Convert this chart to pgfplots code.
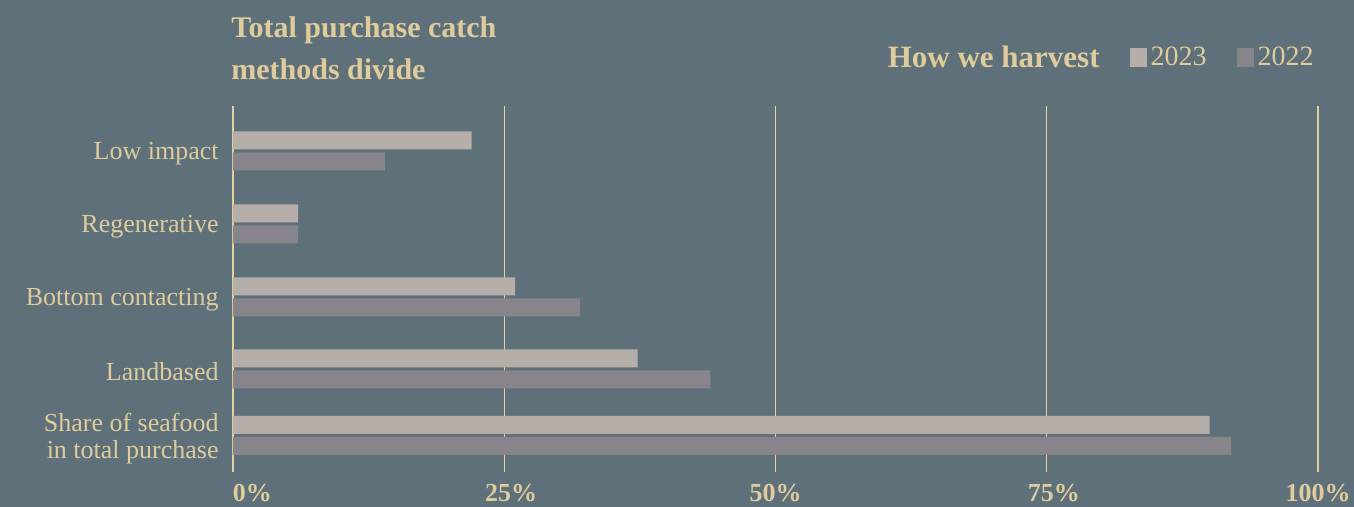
\documentclass[border=0pt]{standalone}
\usepackage{fontspec}
\setmainfont{Liberation Serif}
\usepackage{pgfplots}
\pgfplotsset{compat=1.18}
\definecolor{bg}{HTML}{5E717A}
\definecolor{cream}{HTML}{DFCB9B}
\definecolor{gridc}{HTML}{E3D1A0}
\definecolor{cA}{HTML}{B6AEA9}
\definecolor{cB}{HTML}{87848C}
\begin{document}
\begin{tikzpicture}
\fill[bg] (-116.5pt,-17.5pt) rectangle (560.5pt,236pt);
\begin{axis}[
  at={(0,0)}, anchor=south west,
  scale only axis, width=542.5pt, height=183pt,
  xbar, bar width=18,
  xmin=0, xmax=100, ymin=0, ymax=366,
  axis line style={draw=none},
  xtick={0,25,50,75,100},
  xticklabels={\makebox[0pt][l]{0\%},\hspace{7pt}25\%,50\%,\hspace{7pt}75\%,100\%},
  ytick={36.5,103,175,248,321},
  yticklabels={{Share of seafood\\in total purchase},Landbased,Bottom contacting,Regenerative,Low impact},
  major tick length=0pt,
  xmajorgrids, grid style={gridc, line width=0.7pt},
  /pgf/number format/assume math mode=true,
  xticklabel style={font=\fontsize{13}{13}\selectfont\bfseries, text=cream, inner sep=0pt, anchor=north, yshift=-6pt},
  yticklabel style={font=\fontsize{13}{13.5}\selectfont, text=cream, inner sep=0pt, align=right, anchor=east, xshift=-7pt, yshift=-1.5pt},
  legend image code/.code={\fill[#1] (0pt,-4.75pt) rectangle (8.5pt,4.75pt);},
  legend columns=3,
  legend cell align=left,
  legend style={draw=none, fill=none, text=cream, font=\fontsize{14}{16}\selectfont,
    at={(1,1)}, anchor=east, yshift=24pt, inner sep=0pt,
    /tikz/every even column/.append style={column sep=13pt}},
]
\addlegendimage{empty legend}
\addplot[fill=cA, draw=none, bar shift=10.5] coordinates {(90,36.5) (37.3,103) (26,175) (6,248) (22,321)};
\addplot[fill=cB, draw=none, bar shift=-10.5] coordinates {(92,36.5) (44,103) (32,175) (6,248) (14,321)};
\legend{{\fontsize{15.5}{18}\selectfont\bfseries How we harvest},2023,2022}
\end{axis}
\node[anchor=north west, text=cream, align=left, font=\fontsize{15}{21}\selectfont\bfseries, inner sep=0pt] at (-1pt,228pt) {Total purchase catch\\methods divide};
\pgfresetboundingbox
\path[use as bounding box] (-116.5pt,-17.5pt) rectangle (560.5pt,236pt);
\end{tikzpicture}
\end{document}
